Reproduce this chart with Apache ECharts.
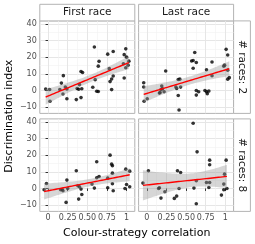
<!DOCTYPE html>
<html><head><meta charset="utf-8">
<script src="https://cdn.jsdelivr.net/npm/echarts@6/dist/echarts.min.js"></script>
<style>html,body{margin:0;padding:0;background:#fff}#c{width:255px;height:244px}</style>
</head><body><div id="c"></div>
<script>
const xTicks = [0, 0.25, 0.5, 0.75, 1];
const xTickLabels = ['0', '0.25', '0.50', '0.75', '1'];
const xMinor = [0.125, 0.375, 0.625, 0.875];
const yTicks = [-10, 0, 10, 20, 30, 40];
const yTickLabels = ['\u221210', '0', '10', '20', '30', '40'];
const yMinor = [-5, 5, 15, 25, 35];
const colStrips = ['First race', 'Last race'];
const rowStrips = ['# races: 2', '# races: 8'];
const xTitle = 'Colour-strategy correlation';
const yTitle = 'Discrimination index';

// top-left: First race, # races 2
const tlX = [-0.03,0.02,0.025,0.15,0.17,0.195,0.19,0.22,0.24,0.24,0.37,0.36,0.39,0.40,0.42,0.42,0.44,0.43,0.57,0.59,0.62,0.64,0.65,0.64,0.60,0.76,0.78,0.79,0.81,0.83,0.83,0.81,0.97,0.99,0.97,1.0,1.03,1.02,0.99,0.96];
const tlY = [0.8,0.6,-6.5,0.6,4.4,8.9,-2.1,2.1,-5,0.9,1.2,-5.5,0.7,3.5,-4.3,11.4,10.8,1.0,1.9,26.1,-0.5,-0.6,17.5,14.6,6.5,21.8,13.1,5.3,6.9,8.7,23.4,0.5,21.5,25,7.5,20,17.6,15.2,13.6,16];
// top-right: Last race, # races 2
const trX = [-0.04,-0.04,-0.035,0.005,0.18,0.16,0.19,0.2,0.22,0.17,0.24,0.37,0.38,0.40,0.42,0.40,0.43,0.41,0.57,0.59,0.61,0.63,0.59,0.63,0.63,0.66,0.74,0.76,0.76,0.77,0.79,0.83,0.83,0.98,1.01,1.03,1.03,1.05,1.03,0.99];
const trY = [4.6,2.1,-6.5,-5,0.6,-1.6,2.6,1,-0.8,-1.2,11.7,2,1.2,6.6,6.8,-3,2,-11.8,17.7,18,22.8,16.8,13.3,0,-2.8,-0.8,0,12.4,-0.8,-2,-0.4,17.1,8.8,14.6,24.7,21.3,12.2,7.7,6.8,15.2];
// bottom-left: First race, # races 8
const blX = [-0.05,-0.02,0.16,0.19,0.24,0.25,0.23,0.36,0.38,0.39,0.42,0.43,0.59,0.62,0.62,0.65,0.56,0.76,0.76,0.79,0.81,0.82,0.82,0.82,0.83,0.99,1.04,1.0,1.04,0.98,0.18,0.40];
const blY = [-0.8,3,-0.8,-1.4,5,0,-8.4,10.6,1.6,-6.4,-0.4,-3.6,0.2,16,6.4,7.2,2.6,0.4,6.2,20,14.6,13.6,9.2,2.8,-1.4,11.6,10.4,2.4,1,0,-0.6,1.0];
// bottom-right: Last race, # races 8
const brX = [-0.05,0.02,0.15,0.16,0.18,0.23,0.35,0.38,0.39,0.43,0.41,0.59,0.6,0.63,0.63,0.64,0.76,0.79,0.8,0.8,0.8,0.95,0.98,0.98,0.99,1.01,1.02];
const brY = [3.2,10.6,0,0.4,-5.8,-2,-6,-4.6,10.6,9.6,0,39.2,0.2,4.6,-9.2,22,3.6,0.6,14.2,17,3.6,-4,-0.8,2.6,8.6,17,0];

const panels = [
  {x: tlX, y: tlY, row: 0, col: 0},
  {x: trX, y: trY, row: 0, col: 1},
  {x: blX, y: blY, row: 1, col: 0},
  {x: brX, y: brY, row: 1, col: 1}
];

const panelLeft = [39.8, 138.6];
const panelTop = [20.9, 118.9];
const panelW = 95;
const panelH = 92.5;
const xMin = -0.105, xMax = 1.105, yMin = -13.8, yMax = 41.8;
const borderCol = '#b3b3b3';
const font = 'DejaVu Sans';

function fitLm(xs, ys) {
  const n = xs.length;
  let mx = 0, my = 0;
  for (let i = 0; i < n; i++) { mx += xs[i]; my += ys[i]; }
  mx /= n; my /= n;
  let sxx = 0, sxy = 0;
  for (let i = 0; i < n; i++) { sxx += (xs[i]-mx)**2; sxy += (xs[i]-mx)*(ys[i]-my); }
  const b = sxy / sxx, a = my - b * mx;
  let sse = 0;
  for (let i = 0; i < n; i++) sse += (ys[i] - a - b*xs[i])**2;
  const s = Math.sqrt(sse / (n - 2));
  const df = n - 2;
  const t = 1.96 + 2.4 / df;
  const lo = Math.min(...xs), hi = Math.max(...xs);
  const pts = [];
  const steps = 40;
  for (let k = 0; k <= steps; k++) {
    const x = lo + (hi - lo) * k / steps;
    const yh = a + b * x;
    const se = s * Math.sqrt(1/n + (x-mx)**2 / sxx);
    pts.push([x, yh, yh - t*se, yh + t*se]);
  }
  return pts;
}

const grids = [], xAxes = [], yAxes = [], series = [], graphics = [];
panels.forEach((p, i) => {
  grids.push({left: panelLeft[p.col], top: panelTop[p.row], width: panelW, height: panelH,
    show: true, borderColor: borderCol, borderWidth: 1, backgroundColor: '#fff', containLabel: false});
  const showXLab = p.row === 1, showYLab = p.col === 0;
  xAxes.push({gridIndex: i, type: 'value', min: xMin, max: xMax,
    axisLine: {show: false},
    axisTick: {show: showXLab, customValues: xTicks, length: 2.5, lineStyle: {color: '#333', width: 1}},
    axisLabel: {show: showXLab, customValues: xTicks, showMinLabel: true, showMaxLabel: true, hideOverlap: false,
      formatter: v => xTickLabels[xTicks.indexOf(Math.round(v*1000)/1000)] ?? '', color: '#4d4d4d', fontSize: 8, fontFamily: font, margin: 3},
    splitLine: {show: true, lineStyle: {color: '#e6e6e6', width: 1}}});
  yAxes.push({gridIndex: i, type: 'value', min: yMin, max: yMax,
    axisLine: {show: false},
    axisTick: {show: showYLab, customValues: yTicks, length: 2.5, lineStyle: {color: '#333', width: 1}},
    axisLabel: {show: showYLab, customValues: yTicks, showMinLabel: true, showMaxLabel: true, hideOverlap: false,
      formatter: v => yTickLabels[yTicks.indexOf(Math.round(v))] ?? '', color: '#4d4d4d', fontSize: 8, fontFamily: font, margin: 3},
    splitLine: {show: true, lineStyle: {color: '#e6e6e6', width: 1}}});
});
panels.forEach((p, i) => {
  xAxes.push({gridIndex: i, type: 'value', min: xMin, max: xMax, axisLine: {show: false},
    axisTick: {show: false, customValues: xMinor}, axisLabel: {show: false, customValues: xMinor},
    splitLine: {show: true, lineStyle: {color: '#f2f2f2', width: 0.6}}});
  yAxes.push({gridIndex: i, type: 'value', min: yMin, max: yMax, axisLine: {show: false},
    axisTick: {show: false, customValues: yMinor}, axisLabel: {show: false, customValues: yMinor},
    splitLine: {show: true, lineStyle: {color: '#f2f2f2', width: 0.6}}});
});

panels.forEach((p, i) => {
  const pts = p.x.map((v, k) => [v, p.y[k]]);
  series.push({type: 'scatter', xAxisIndex: i, yAxisIndex: i, data: pts, symbolSize: 3.6,
    itemStyle: {color: '#000'}, z: 2, silent: true, animation: false});
  const fit = fitLm(p.x, p.y);
  series.push({type: 'custom', xAxisIndex: i, yAxisIndex: i, data: [0], z: 3, silent: true, animation: false,
    renderItem: (params, api) => {
      const up = fit.map(q => api.coord([q[0], q[3]]));
      const dn = fit.slice().reverse().map(q => api.coord([q[0], q[2]]));
      return {type: 'polygon', shape: {points: up.concat(dn)}, style: {fill: 'rgba(153,153,153,0.4)', stroke: null}};
    }});
  series.push({type: 'line', xAxisIndex: i, yAxisIndex: i, data: fit.map(q => [q[0], q[1]]),
    showSymbol: false, lineStyle: {color: '#ff0000', width: 1.4}, z: 4, silent: true, animation: false});
});

colStrips.forEach((t, c) => {
  graphics.push({type: 'rect', shape: {x: panelLeft[c], y: 4.3, width: panelW, height: panelTop[0] - 4.3},
    style: {fill: '#fff', stroke: borderCol, lineWidth: 1}});
  graphics.push({type: 'text', x: panelLeft[c] + panelW/2, y: (4.3 + panelTop[0])/2,
    style: {text: t, fill: '#1a1a1a', font: '10.5px "DejaVu Sans"', textAlign: 'center', textVerticalAlign: 'middle'}});
});
const stripX = panelLeft[1] + panelW;
rowStrips.forEach((t, r) => {
  graphics.push({type: 'rect', shape: {x: stripX, y: panelTop[r], width: 16.8, height: panelH},
    style: {fill: '#fff', stroke: borderCol, lineWidth: 1}});
  graphics.push({type: 'text', x: stripX + 8.4, y: panelTop[r] + panelH/2, rotation: -Math.PI/2,
    style: {text: t, fill: '#1a1a1a', font: '10.5px "DejaVu Sans"', textAlign: 'center', textVerticalAlign: 'middle'}});
});
graphics.push({type: 'text', x: 9, y: (panelTop[0] + panelTop[1] + panelH)/2, rotation: Math.PI/2,
  style: {text: yTitle, fill: '#000', font: '11px "DejaVu Sans"', textAlign: 'center', textVerticalAlign: 'middle'}});
graphics.push({type: 'text', x: (panelLeft[0] + stripX)/2, y: 233,
  style: {text: xTitle, fill: '#000', font: '11px "DejaVu Sans"', textAlign: 'center', textVerticalAlign: 'middle'}});

const chart = echarts.init(document.getElementById('c'), null, {renderer: 'canvas'});
chart.setOption({animation: false, backgroundColor: '#fff', grid: grids, xAxis: xAxes, yAxis: yAxes, series: series, graphic: graphics});
</script></body></html>
